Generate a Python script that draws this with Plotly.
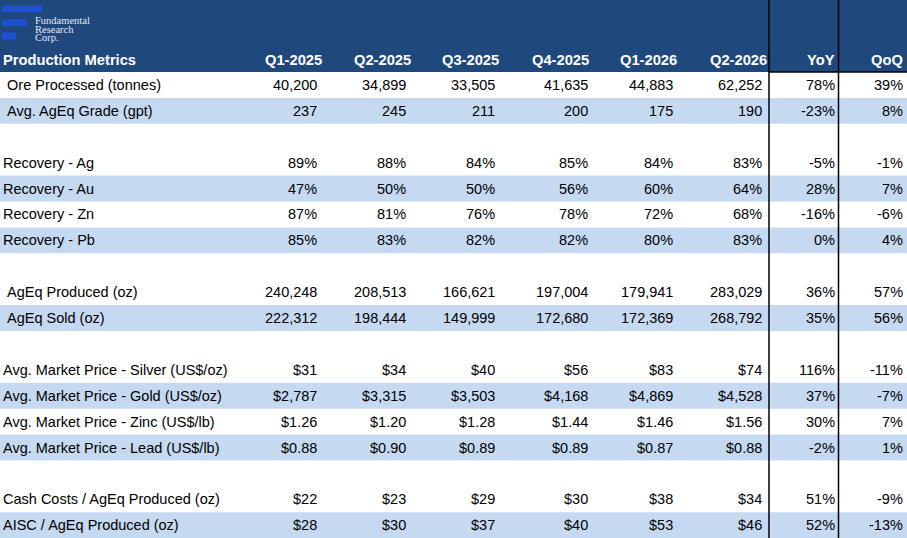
import plotly.graph_objects as go

# column headers
quarters = ["Q1-2025", "Q2-2025", "Q3-2025", "Q4-2025", "Q1-2026", "Q2-2026"]
changes = ["YoY", "QoQ"]

# row labels (None = spacer row)
labels = [
    " Ore Processed (tonnes)", " Avg. AgEq Grade (gpt)", None,
    "Recovery - Ag", "Recovery - Au", "Recovery - Zn", "Recovery - Pb", None,
    " AgEq Produced (oz)", " AgEq Sold (oz)", None,
    "Avg. Market Price - Silver (US$/oz)", "Avg. Market Price - Gold (US$/oz)",
    "Avg. Market Price - Zinc (US$/lb)", "Avg. Market Price - Lead (US$/lb)", None,
    "Cash Costs / AgEq Produced (oz)", "AISC / AgEq Produced (oz)",
]

ore_processed = [40200, 34899, 33505, 41635, 44883, 62252]
ageq_grade = [237, 245, 211, 200, 175, 190]
recovery_ag = [89, 88, 84, 85, 84, 83]
recovery_au = [47, 50, 50, 56, 60, 64]
recovery_zn = [87, 81, 76, 78, 72, 68]
recovery_pb = [85, 83, 82, 82, 80, 83]
ageq_produced = [240248, 208513, 166621, 197004, 179941, 283029]
ageq_sold = [222312, 198444, 149999, 172680, 172369, 268792]
price_silver = [31, 34, 40, 56, 83, 74]
price_gold = [2787, 3315, 3503, 4168, 4869, 4528]
price_zinc = [1.26, 1.20, 1.28, 1.44, 1.46, 1.56]
price_lead = [0.88, 0.90, 0.89, 0.89, 0.87, 0.88]
cash_costs = [22, 23, 29, 30, 38, 34]
aisc = [28, 30, 37, 40, 53, 46]

yoy = [78, -23, None, -5, 28, -16, 0, None, 36, 35, None, 116, 37, 30, -2, None, 51, 52]
qoq = [39, 8, None, -1, 7, -6, 4, None, 57, 56, None, -11, -7, 7, 1, None, -9, -13]

series = [
    (ore_processed, "int"), (ageq_grade, "int"), None,
    (recovery_ag, "pct"), (recovery_au, "pct"), (recovery_zn, "pct"), (recovery_pb, "pct"), None,
    (ageq_produced, "int"), (ageq_sold, "int"), None,
    (price_silver, "usd0"), (price_gold, "usd0"), (price_zinc, "usd2"), (price_lead, "usd2"), None,
    (cash_costs, "usd0"), (aisc, "usd0"),
]


def fmt(v, kind):
    if kind == "int":
        return f"{v:,.0f}"
    if kind == "pct":
        return f"{v:.0f}%"
    if kind == "usd0":
        return f"${v:,.0f}"
    return f"${v:.2f}"


W, H = 907, 538
HEAD_H = 72
ROW_H = 25.9
NAVY = "#1F497D"
LIGHT = "#C5D9F1"
FONT = "Liberation Sans"
head_right = [324, 413, 501, 591, 679, 769, 837, 905]
val_right = [319, 408, 497, 590, 675, 764, 837, 905]

shapes = []
ann = []

# header band
shapes.append(dict(type="rect", x0=0, x1=W, y0=0, y1=HEAD_H, fillcolor=NAVY, line_width=0, layer="below"))

# logo
for w, (y0, y1) in zip([40, 25, 14], [(5.7, 12.3), (19.3, 26), (32.3, 39.3)]):
    shapes.append(dict(type="rect", x0=2, x1=2 + w, y0=y0, y1=y1, fillcolor="#1E50D2", line_width=0))
for txt, y in zip(["Fundamental", "Research", "Corp."], [20.5, 29, 37.5]):
    ann.append(dict(x=33, y=y, text=txt, xanchor="left", yanchor="middle", showarrow=False,
                    font=dict(family="Liberation Serif", size=10.5, color="#E6E6EE")))

# header labels
hfont = dict(family=FONT, size=14.7, color="white")
ann.append(dict(x=1, y=60, text="<b>Production Metrics</b>", xanchor="left", yanchor="middle",
                showarrow=False, font=hfont))
for i, q in enumerate(quarters + changes):
    ann.append(dict(x=head_right[i], y=60, text=f"<b>{q}</b>", xanchor="right", yanchor="middle",
                    showarrow=False, font=hfont))

# body rows
bfont = dict(family=FONT, size=14.5, color="black")
k = 0
for r, lab in enumerate(labels):
    top = HEAD_H + r * ROW_H
    mid = top + ROW_H / 2
    if lab is None:
        k = 0
        continue
    if k % 2 == 1:
        shapes.append(dict(type="rect", x0=0, x1=W, y0=top, y1=top + ROW_H, fillcolor=LIGHT,
                           line_width=0, layer="below"))
    k += 1
    ann.append(dict(x=1, y=mid, text=lab.replace(" ", "\u00a0", 1) if lab.startswith(" ") else lab,
                    xanchor="left", yanchor="middle", showarrow=False, font=bfont))
    vals, kind = series[r]
    cells = [fmt(v, kind) for v in vals] + [f"{yoy[r]}%", f"{qoq[r]}%"]
    for i, c in enumerate(cells):
        ann.append(dict(x=val_right[i], y=mid, text=c, xanchor="right", yanchor="middle",
                        showarrow=False, font=bfont))

# black borders around change columns
for x in [769, 838.5]:
    shapes.append(dict(type="line", x0=x, x1=x, y0=0, y1=H, line=dict(color="black", width=1.5)))
shapes.append(dict(type="line", x0=769, x1=W, y0=HEAD_H, y1=HEAD_H, line=dict(color="black", width=1.5)))

fig = go.Figure()
fig.update_layout(
    width=W, height=H, autosize=False,
    margin=dict(l=0, r=0, t=0, b=0),
    paper_bgcolor="white", plot_bgcolor="white",
    xaxis=dict(range=[0, W], visible=False, fixedrange=True),
    yaxis=dict(range=[H, 0], visible=False, fixedrange=True),
    shapes=shapes, annotations=ann, showlegend=False,
)

fig.write_html(
    "out.html",
    config={"displayModeBar": False},
    post_script="document.body.style.margin='0';document.body.style.overflow='hidden';",
)
